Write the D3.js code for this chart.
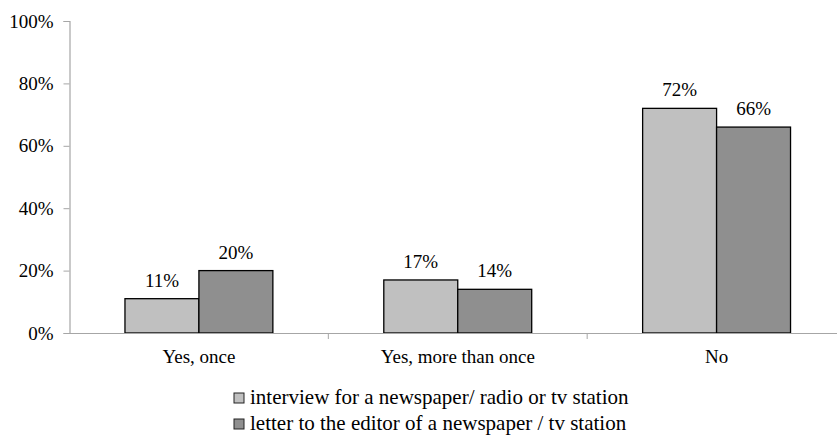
<!DOCTYPE html>
<html>
<head>
<meta charset="utf-8">
<script src="https://cdn.jsdelivr.net/npm/d3@7"></script>
<style>
  body { margin: 0; background: #fff; }
</style>
</head>
<body>
<script>
// data
var categories = ["Yes, once", "Yes, more than once", "No"];
var seriesNames = ["interview for a newspaper/ radio or tv station",
                   "letter to the editor of a newspaper / tv station"];
var interviewVals = [11, 17, 72];
var letterVals = [20, 14, 66];
var yTicks = [0, 20, 40, 60, 80, 100];
var colors = ["#c0c0c0", "#8f8f8f"];

var width = 837, height = 441;
var margin = {top: 21, left: 69.5, bottom: 333};
var serif = "Liberation Serif";

const svg = d3.select("body")
    .append("svg")
        .attr("width", width)
        .attr("height", height)

const x = d3.scaleBand()
    .domain(categories)
    .range([margin.left, 846])
    .paddingInner(0).paddingOuter(0);

const xs = d3.scaleBand()
    .domain(seriesNames)
    .range([0, x.bandwidth()])
    .paddingInner(0).paddingOuter(0.75);

const y = d3.scaleLinear()
    .domain([0, 100])
    .range([margin.bottom, margin.top]);

// y axis
const yAxis = svg.append("g")
    .attr("transform", "translate(" + margin.left + ",0)")
    .call(d3.axisLeft(y).tickValues(yTicks).tickFormat(d => d + "%").tickSizeOuter(0).tickSize(6).tickPadding(10));
yAxis.select(".domain").attr("stroke", "#a6a6a6").attr("stroke-width", 1.2);
yAxis.selectAll(".tick line").attr("stroke", "#a6a6a6");
yAxis.selectAll(".tick text")
    .style("font-family", serif).style("font-size", "19px")
    .attr("fill", "#000").attr("dy", "0.32em");

const data = categories.map((c, i) => ({cat: c, vals: [interviewVals[i], letterVals[i]]}));

const groups = svg.selectAll(".grp").data(data).enter().append("g")
    .attr("class", "grp")
    .attr("transform", d => "translate(" + x(d.cat) + ",0)");

groups.selectAll("rect")
    .data(d => d.vals.map((v, j) => ({s: seriesNames[j], v: v, j: j})))
    .enter().append("rect")
        .attr("x", d => xs(d.s))
        .attr("y", d => y(d.v))
        .attr("width", xs.bandwidth())
        .attr("height", d => y(0) - y(d.v))
        .attr("fill", d => colors[d.j])
        .attr("stroke", "#000")
        .attr("stroke-width", 1.3);

groups.selectAll(".val")
    .data(d => d.vals.map((v, j) => ({s: seriesNames[j], v: v})))
    .enter().append("text")
        .attr("class", "val")
        .attr("x", d => xs(d.s) + xs.bandwidth() / 2)
        .attr("y", d => y(d.v) - 12)
        .attr("text-anchor", "middle")
        .style("font-family", serif).style("font-size", "19px")
        .text(d => d.v + "%");

// x axis, drawn after bars so the line sits on top
const xAxis = svg.append("g")
    .attr("transform", "translate(0," + margin.bottom + ")")
    .call(d3.axisBottom(x).tickSize(0).tickPadding(17));
xAxis.select(".domain").attr("stroke", "#a6a6a6").attr("stroke-width", 1.2);
xAxis.selectAll(".tick text")
    .style("font-family", serif).style("font-size", "19px")
    .attr("fill", "#000").attr("dy", "0.71em");

// tick marks at category boundaries
svg.selectAll(".bnd").data(categories.slice(1)).enter().append("line")
    .attr("x1", d => x(d)).attr("x2", d => x(d))
    .attr("y1", margin.bottom).attr("y2", margin.bottom + 6)
    .attr("stroke", "#a6a6a6");

// legend
const legend = svg.selectAll(".leg").data(seriesNames).enter().append("g")
    .attr("class", "leg")
    .attr("transform", (d, i) => "translate(234," + (392 + i * 26) + ")");
legend.append("rect")
    .attr("y", 1)
    .attr("width", 10).attr("height", 10)
    .attr("fill", (d, i) => colors[i])
    .attr("stroke", "#222").attr("stroke-width", 1);
legend.append("text")
    .attr("x", 16).attr("y", 12)
    .style("font-family", serif).style("font-size", "21px")
    .text(d => d);
</script>
</body>
</html>
